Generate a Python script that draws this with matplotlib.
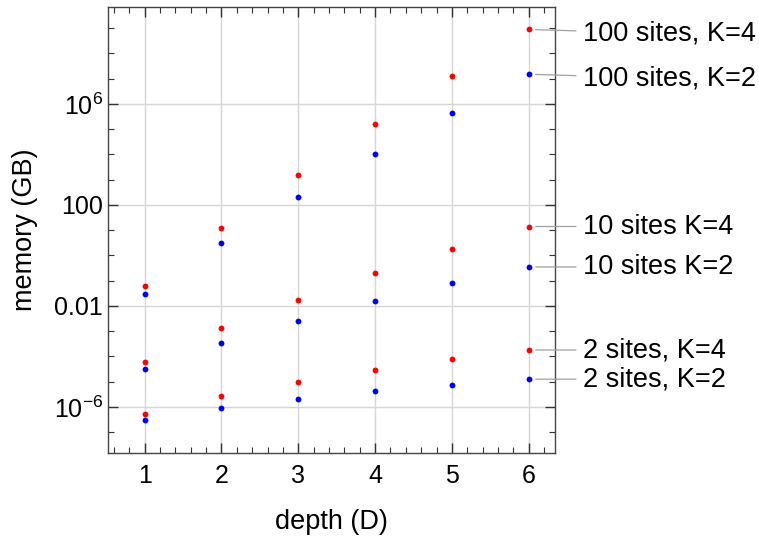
import numpy as np
import matplotlib
matplotlib.use("Agg")
import matplotlib.pyplot as plt
from matplotlib.ticker import FixedLocator, MultipleLocator, FuncFormatter

plt.rcParams['font.family'] = ['Liberation Sans', 'DejaVu Sans']
plt.rcParams['mathtext.fontset'] = 'custom'
plt.rcParams['mathtext.rm'] = 'Liberation Sans'

# --------------------- data ----------------------
depth = [1, 2, 3, 4, 5, 6]

mem_100_k4 = [0.060, 12, 1600, 1.6e5, 1.3e7, 8.9e8]
mem_100_k2 = [0.030, 3.1, 200, 1.07e4, 4.3e5, 1.5e7]
mem_10_k4 = [6.0e-5, 1.3e-3, 0.018, 0.20, 1.8, 14]
mem_10_k2 = [3.1e-5, 3.5e-4, 2.6e-3, 0.016, 0.079, 0.35]
mem_2_k4 = [5.5e-7, 2.6e-6, 9.8e-6, 2.9e-5, 7.6e-5, 1.8e-4]
mem_2_k2 = [3.0e-7, 8.9e-7, 2.0e-6, 4.2e-6, 7.4e-6, 1.26e-5]

series = [
    (mem_100_k4, "red", "100 sites, K=4", -3),
    (mem_100_k2, "blue", "100 sites, K=2", -3),
    (mem_10_k4, "red", "10 sites K=4", 0),
    (mem_10_k2, "blue", "10 sites K=2", 0),
    (mem_2_k4, "red", "2 sites, K=4", 0),
    (mem_2_k2, "blue", "2 sites, K=2", 0),
]

# --------------------- plot ----------------------
fig = plt.figure(figsize=(7.59, 5.36), dpi=100)
ax = fig.add_axes([0.142, 0.155, 0.589, 0.832])

for vals, col, label, dy in series:
    ax.plot(depth, vals, "o", color=col, ms=4.2, mec="none", zorder=3)
    ax.annotate(label, xy=(depth[-1], vals[-1]), xytext=(39, dy),
                textcoords="offset points", va="center", ha="left",
                fontsize=19.5, annotation_clip=False,
                arrowprops=dict(arrowstyle="-", color="#a0a0a0", lw=0.9,
                                shrinkA=3, shrinkB=5))

ax.set_yscale("log")
ax.set_xlim(0.52, 6.34)
ax.set_ylim(10**-7.82, 10**9.84)

ax.xaxis.set_major_locator(MultipleLocator(1))
ax.xaxis.set_minor_locator(MultipleLocator(0.2))
ax.yaxis.set_major_locator(FixedLocator([1e-6, 1e-2, 1e2, 1e6]))
ax.yaxis.set_minor_locator(FixedLocator([10.0**k for k in range(-7, 10)]))

def ylab(v, pos):
    e = int(round(np.log10(v)))
    if e == 2:
        return "100"
    if e == -2:
        return "0.01"
    return r"$\mathregular{10^{%d}}$" % e

ax.yaxis.set_major_formatter(FuncFormatter(ylab))
ax.yaxis.set_minor_formatter(FuncFormatter(lambda v, p: ""))

ax.tick_params(which="both", direction="in", top=True, right=True,
               labelsize=18, colors="#333333", labelcolor="black")
ax.tick_params(which="major", length=7, width=1)
ax.tick_params(which="minor", length=4, width=0.8)
ax.tick_params(axis="x", pad=8)

ax.grid(True, which="major", color="#d6d6d6", lw=1)
for s in ax.spines.values():
    s.set_color("#444444")
    s.set_linewidth(1)

ax.set_xlabel("depth (D)", fontsize=19.5, labelpad=15)
ax.set_ylabel("memory (GB)", fontsize=19.5, labelpad=11)

fig.savefig("out.png", dpi=100)
